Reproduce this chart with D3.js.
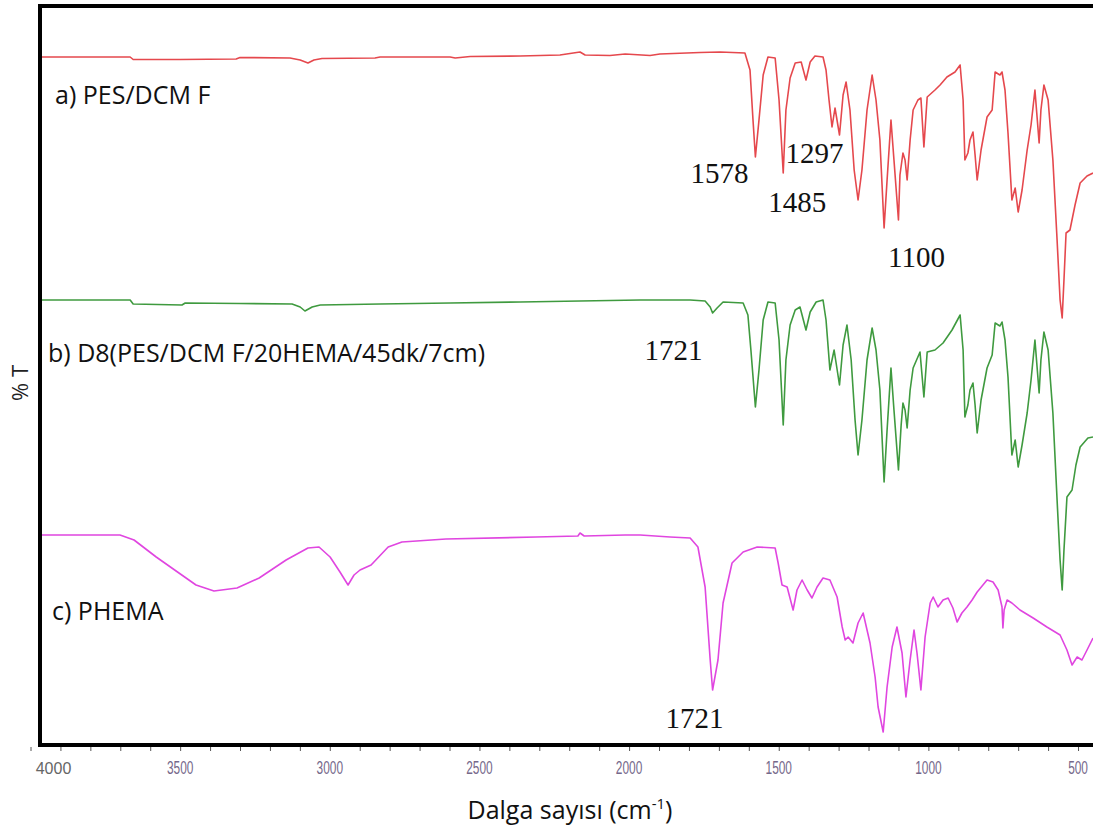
<!DOCTYPE html>
<html>
<head>
<meta charset="utf-8">
<script src="https://cdn.jsdelivr.net/npm/d3@7"></script>
<style>
  html, body { margin: 0; padding: 0; background: #fff; }
  svg { display: block; }
</style>
</head>
<body>
<svg id="chart" width="1093" height="834"></svg>
<script>
// FTIR spectra: [wavenumber (cm-1), stacked transmittance (a.u.)]
const spectrumA = [
  [3980,137.6],[3667,137.6],[3657,137.1],[3500,137.1],[3313,137.2],[3300,137.5],[3133,137.4],[3099,137],
  [3073,136.4],[3053,137],[3026,137.3],[2849,137.4],[2832,137.6],[2598,137.6],[2581,137.4],[2531,137.7],
  [2364,137.8],[2231,138],[2164,138.6],[2147,138],[2064,137.9],[2013,138.2],[1930,137.9],[1897,138.2],
  [1763,138.5],[1696,138.6],[1613,138.4],[1596,135],[1586,125],[1578,117.6],[1566,125],[1552,134],
  [1536,137.6],[1512,137.4],[1499,129],[1485,114.4],[1476,127],[1462,133.4],[1445,136.4],[1425,136.6],
  [1409,133],[1395,136.6],[1379,137.8],[1352,137.6],[1342,135],[1332,129],[1322,123.6],[1312,127.4],
  [1297,122],[1285,130],[1275,132.6],[1262,127],[1248,115],[1235,109],[1222,115],[1205,127],
  [1188,134],[1175,129],[1162,121],[1148,103.4],[1138,113],[1125,125],[1115,117],[1100,105],
  [1095,114],[1085,118.4],[1078,117],[1071,113],[1061,121],[1051,127],[1035,129],[1025,129.4],
  [1015,119.6],[1004,129.6],[978,131],[961,132],[938,133.6],[911,134.6],[894,136],[884,129],
  [878,117],[868,118.4],[861,121],[851,122.6],[844,118],[837,113],[824,119],[804,125.6],
  [787,127],[777,134.6],[761,134],[754,134.6],[744,131],[734,122.4],[721,109],[710,111.4],
  [700,106.6],[687,111],[670,119],[657,124],[644,131],[630,120.4],[624,127],[614,132],
  [600,129],[584,117],[570,101],[560,89],[553,85.4],[547,93],[540,102.4],[527,103],
  [510,108],[493,112.4],[470,113.8],[450,114.4]
];

const spectrumB = [
  [3980,89],[3667,89],[3657,88.2],[3494,88],[3483,88.4],[3300,88.3],[3126,88.2],[3099,87.6],
  [3083,86.8],[3059,87.6],[3032,88],[2832,88.2],[2598,88.4],[2364,88.6],[2164,88.8],[1963,89],
  [1796,89],[1746,88.8],[1729,87.6],[1721,86.4],[1706,87.4],[1686,88.6],[1619,88.4],[1603,86],
  [1593,79],[1578,67.6],[1566,75],[1552,85],[1536,88.6],[1512,88.4],[1499,81],[1485,64],
  [1476,77],[1462,84],[1445,87],[1429,87.6],[1409,83],[1395,86.6],[1375,88.6],[1352,89],
  [1342,85],[1329,75],[1315,79],[1297,72],[1285,80],[1272,84],[1258,77],[1245,65],
  [1235,58],[1222,65],[1205,77],[1188,83.4],[1175,79],[1162,71],[1148,52.6],[1138,63],
  [1125,75.4],[1115,67],[1100,55],[1091,64],[1085,68.4],[1078,67],[1071,63.4],[1061,71],
  [1051,75.4],[1028,78.6],[1015,69.6],[1004,78.6],[978,79],[951,80.4],[921,83],[894,86],
  [884,79],[878,65.6],[868,68],[861,71],[851,72.4],[844,68],[837,62.4],[824,69],
  [804,75.4],[787,78],[777,84.4],[761,83.8],[754,84.6],[744,81],[734,73.6],[721,58],
  [710,61],[700,55.6],[687,60],[670,66.4],[657,73],[644,81],[630,70.4],[624,77],
  [614,82.6],[600,79],[584,66.4],[570,49],[560,37],[553,31],[547,39],[537,49.6],
  [520,51],[507,56],[493,59.6],[467,61.4],[450,61.6]
];

const spectrumC = [
  [3980,42],[3701,42],[3654,41],[3580,37.6],[3504,34.4],[3447,32],[3387,30.8],[3310,31.4],
  [3236,33.4],[3146,37],[3073,39.4],[3036,39.6],[2999,37.6],[2966,34.6],[2939,32],[2919,34],
  [2899,35],[2862,36],[2805,39.6],[2759,40.6],[2612,41.2],[2311,41.6],[2171,41.8],[2164,42.4],
  [2150,41.8],[2013,42],[1963,42],[1863,41.6],[1796,41.4],[1770,39.6],[1746,31.6],[1729,17],
  [1721,11],[1703,17],[1686,28.4],[1656,36.4],[1619,38.6],[1572,39.6],[1512,39.4],[1502,36.4],
  [1489,32],[1472,31.6],[1452,27],[1439,31],[1422,33],[1405,31],[1389,29.4],[1372,31.6],
  [1352,33.4],[1329,33],[1305,29.6],[1288,23.6],[1278,21],[1268,21.6],[1252,20.4],[1235,24.4],
  [1218,26.4],[1195,20.4],[1178,13.6],[1168,7.6],[1151,2.6],[1138,11.6],[1121,19.6],[1105,23.6],
  [1088,18.4],[1075,9.6],[1061,17],[1048,23],[1038,18.4],[1025,11],[1011,21.6],[994,28.4],
  [984,29.6],[968,27.6],[951,29],[934,29.4],[918,27.4],[904,24.6],[888,26.4],[871,27.6],
  [854,29],[837,30.6],[804,33],[784,32.6],[767,31],[754,27.6],[751,23.4],[747,27],
  [737,29],[721,28.4],[694,27],[650,25.4],[604,23.6],[560,22],[537,19],[520,16],
  [503,17.6],[487,17],[470,19],[450,21.4]
];

const seriesNames = ["a) PES/DCM F", "b) D8(PES/DCM F/20HEMA/45dk/7cm)", "c) PHEMA"];
const seriesColors = ["#e5484d", "#3f9a3f", "#e046e0"];

// band assignments written next to the spectra: [series index, wavenumber, label]
const bandLabels = [
  [0, 1578, "1578"], [0, 1485, "1485"], [0, 1297, "1297"], [0, 1100, "1100"],
  [1, 1721, "1721"], [2, 1721, "1721"]
];

const tickValues = [4000, 3500, 3000, 2500, 2000, 1500, 1000, 500];
const xTitle = "Dalga sayısı (cm";
const yTitle = "% T";

const svg = d3.select("#chart");
const frame = { left: 40, top: 6, right: 1102, bottom: 745 };

const x = d3.scaleLinear().domain([4000, 450]).range([30.5, 1093]);
const y = d3.scaleLinear().domain([0, 148]).range([745, 5]);

svg.append("defs").append("clipPath").attr("id", "plot-clip")
  .append("rect")
  .attr("x", frame.left).attr("y", frame.top)
  .attr("width", frame.right - frame.left).attr("height", frame.bottom - frame.top);

const line = d3.line().x(d => x(d[0])).y(d => y(d[1])).curve(d3.curveLinear);

const plot = svg.append("g").attr("clip-path", "url(#plot-clip)");
[spectrumA, spectrumB, spectrumC].forEach((s, i) => {
  plot.append("path")
    .datum(s)
    .attr("fill", "none")
    .attr("stroke", seriesColors[i])
    .attr("stroke-width", 1.6)
    .attr("stroke-linejoin", "round")
    .attr("d", line);
});

// frame
svg.append("rect")
  .attr("x", frame.left).attr("y", frame.top)
  .attr("width", frame.right - frame.left).attr("height", frame.bottom - frame.top)
  .attr("fill", "none").attr("stroke", "#000").attr("stroke-width", 4);

// bottom axis: ticks and condensed labels
const axis = svg.append("g").attr("transform", `translate(0,${frame.bottom + 2})`);
axis.call(d3.axisBottom(x).tickValues(d3.range(4000, 449, -100)).tickSize(4).tickFormat(""))
  .call(g => g.select(".domain").remove())
  .call(g => g.selectAll(".tick line").attr("stroke", "#555").attr("stroke-width", 1));

axis.selectAll("text.tlabel")
  .data(tickValues)
  .enter().append("text")
  .attr("class", "tlabel")
  .attr("transform", d => d === 4000
    ? `translate(${x(d) + 23},${27})`
    : `translate(${x(d)},${27}) scale(0.66,1)`)
  .attr("text-anchor", "middle")
  .attr("font-family", "Liberation Sans, Arial, sans-serif")
  .attr("font-size", d => d === 4000 ? 16 : 18)
  .attr("fill", d => d === 4000 ? "#666" : "#75688a")
  .text(d => d);

// series names
const nameRows = [0, 1, 2].map(i => ({ name: seriesNames[i], i }));
const namePos = [[55, 104], [48, 362], [52, 620]];
svg.selectAll("text.sname")
  .data(nameRows)
  .enter().append("text")
  .attr("class", "sname")
  .attr("x", d => namePos[d.i][0])
  .attr("y", d => namePos[d.i][1])
  .attr("font-family", "Open Sans, sans-serif")
  .attr("font-size", 25)
  .attr("fill", "#111")
  .text(d => d.name);

// band labels placed beside their minima
const bandOffset = [[-36, 26], [14, 39], [-25, 28], [18, 47], [-39, 47], [-18, 38]];
svg.selectAll("text.band")
  .data(bandLabels)
  .enter().append("text")
  .attr("class", "band")
  .attr("x", (d, k) => x(d[1]) + bandOffset[k][0])
  .attr("y", (d, k) => {
    const s = [spectrumA, spectrumB, spectrumC][d[0]];
    const pt = s.find(p => p[0] === d[1]);
    return y(pt[1]) + bandOffset[k][1];
  })
  .attr("text-anchor", "middle")
  .attr("font-family", "Liberation Serif, Times New Roman, serif")
  .attr("font-size", 29)
  .attr("fill", "#111")
  .text(d => d[2]);

// axis titles
const xt = svg.append("text")
  .attr("x", 570).attr("y", 819)
  .attr("text-anchor", "middle")
  .attr("font-family", "Open Sans, sans-serif")
  .attr("font-size", 25)
  .attr("fill", "#111")
  .text(xTitle);
xt.append("tspan").attr("dy", -10).attr("font-size", 15).text("-1");
xt.append("tspan").attr("dy", 10).text(")");

svg.append("text")
  .attr("transform", "translate(28,383) rotate(-90)")
  .attr("text-anchor", "middle")
  .attr("font-family", "Open Sans, sans-serif")
  .attr("font-size", 22)
  .attr("fill", "#222")
  .text(yTitle);
</script>
</body>
</html>
